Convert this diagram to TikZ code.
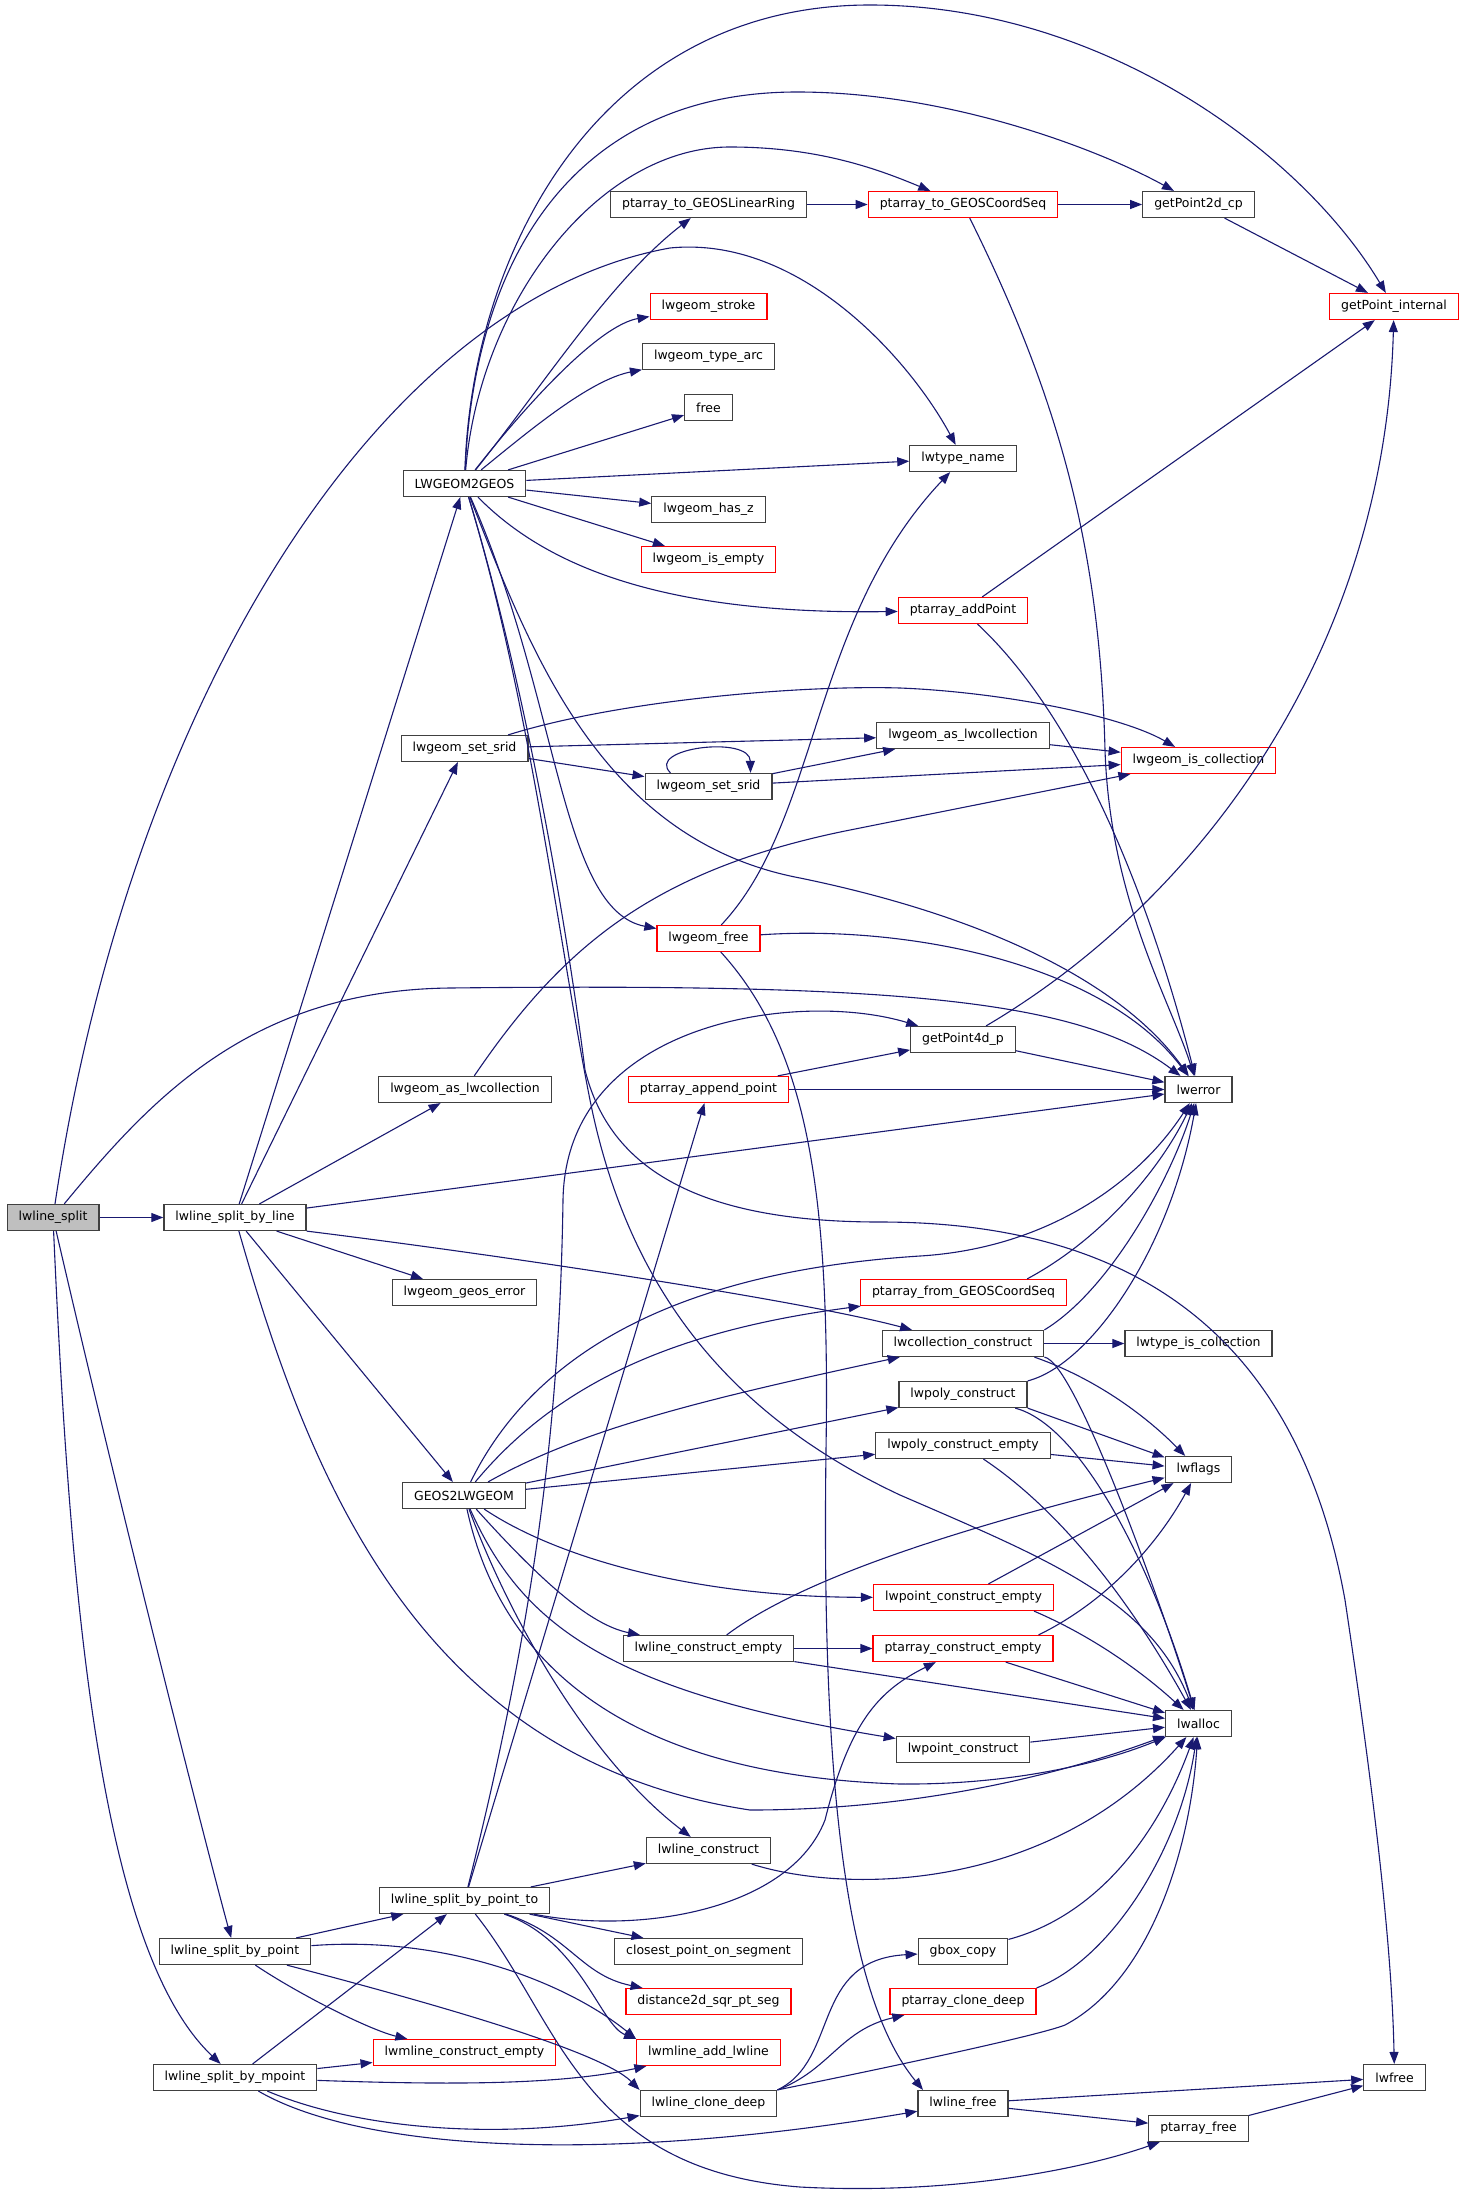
\documentclass[tikz,border=0pt]{standalone}
\usepackage{fontspec}
\setmainfont{DejaVu Sans}
\usetikzlibrary{arrows.meta}
\definecolor{edgeblue}{HTML}{191970}
\definecolor{linkred}{HTML}{FF0000}
\definecolor{rootgray}{HTML}{BFBFBF}
\definecolor{boxgray}{HTML}{404040}

\begin{document}
\begin{tikzpicture}[
  x=1pt,y=-1pt,
  fn/.style={draw=boxgray,line width=1.2pt,fill=white,minimum height=26pt,inner xsep=11.5pt,inner ysep=0pt,font=\fontsize{12.5}{14}\selectfont},
  fnred/.style={fn,draw=linkred},
  root/.style={fn,fill=rootgray},
  arr/.style={-{Triangle[length=12pt,width=9pt]},draw=edgeblue,line width=1.1pt}
]
\useasboundingbox (0,0) rectangle (1467,2197);

\node[root] (split) at (53,1217.5) {lwline\_split};
\node[fn] (byline) at (235,1217.5) {lwline\_split\_by\_line};
\node[fn] (bypoint) at (235,1951.5) {lwline\_split\_by\_point};
\node[fn] (bympoint) at (235,2077.5) {lwline\_split\_by\_mpoint};
\node[fn] (l2g) at (464.5,483.5) {LWGEOM2GEOS};
\node[fn] (srida) at (464.5,748.5) {lwgeom\_set\_srid};
\node[fn] (aslwca) at (465,1089.5) {lwgeom\_as\_lwcollection};
\node[fn] (geoserr) at (464.5,1292.5) {lwgeom\_geos\_error};
\node[fn] (g2l) at (464,1495.5) {GEOS2LWGEOM};
\node[fn] (bypointto) at (464.5,1900.5) {lwline\_split\_by\_point\_to};
\node[fnred] (mlineempty) at (464.5,2052.5) {lwmline\_construct\_empty};
\node[fn] (toring) at (708.5,204.5) {ptarray\_to\_GEOSLinearRing};
\node[fnred] (stroke) at (708.5,306.5) {lwgeom\_stroke};
\node[fn] (typearc) at (708.5,356.5) {lwgeom\_type\_arc};
\node[fn] (free) at (708.5,407.5) {free};
\node[fn] (hasz) at (708.5,509.5) {lwgeom\_has\_z};
\node[fnred] (isempty) at (708.5,559.5) {lwgeom\_is\_empty};
\node[fn] (sridb) at (708.5,786.5) {lwgeom\_set\_srid};
\node[fnred] (geomfree) at (708.5,938.5) {lwgeom\_free};
\node[fnred] (appendpt) at (708.5,1089.5) {ptarray\_append\_point};
\node[fn] (lineempty) at (708.5,1648.5) {lwline\_construct\_empty};
\node[fn] (lineconstr) at (708.5,1850.5) {lwline\_construct};
\node[fn] (closest) at (708.5,1951.5) {closest\_point\_on\_segment};
\node[fnred] (dist2d) at (708.5,2001.5) {distance2d\_sqr\_pt\_seg};
\node[fnred] (addline) at (708.5,2052.5) {lwmline\_add\_lwline};
\node[fn] (clonedeep) at (708.5,2103.5) {lwline\_clone\_deep};
\node[fnred] (tocoordseq) at (963,204.5) {ptarray\_to\_GEOSCoordSeq};
\node[fn] (typename) at (963,458.5) {lwtype\_name};
\node[fnred] (addpoint) at (963,610.5) {ptarray\_addPoint};
\node[fn] (aslwcb) at (963,735.5) {lwgeom\_as\_lwcollection};
\node[fn] (pt4d) at (963,1039.5) {getPoint4d\_p};
\node[fnred] (fromcoordseq) at (963.5,1292.5) {ptarray\_from\_GEOSCoordSeq};
\node[fn] (collconstr) at (963,1343.5) {lwcollection\_construct};
\node[fn] (polyconstr) at (963,1394.5) {lwpoly\_construct};
\node[fn] (polyempty) at (963,1445.5) {lwpoly\_construct\_empty};
\node[fnred] (pointempty) at (963.5,1597.5) {lwpoint\_construct\_empty};
\node[fnred] (ptarrempty) at (963,1648.5) {ptarray\_construct\_empty};
\node[fn] (pointconstr) at (963,1749.5) {lwpoint\_construct};
\node[fn] (gbox) at (963,1951.5) {gbox\_copy};
\node[fnred] (ptclone) at (963,2001.5) {ptarray\_clone\_deep};
\node[fn] (linefree) at (963,2103.5) {lwline\_free};
\node[fn] (pt2d) at (1198.5,204.5) {getPoint2d\_cp};
\node[fnred] (iscoll) at (1198.5,760.5) {lwgeom\_is\_collection};
\node[fn] (lwerror) at (1198.5,1089.5) {lwerror};
\node[fn] (typeiscoll) at (1198.5,1343.5) {lwtype\_is\_collection};
\node[fn] (lwflags) at (1198.5,1469.5) {lwflags};
\node[fn] (lwalloc) at (1198.5,1723.5) {lwalloc};
\node[fn] (ptfree) at (1198.5,2128.5) {ptarray\_free};
\node[fnred] (ptint) at (1394,306.5) {getPoint\_internal};
\node[fn] (lwfree) at (1394.5,2077.5) {lwfree};

\draw[arr] (split) -- (byline);
\draw[arr] (split) .. controls (130,700) and (380,300) .. (670,248) .. controls (800,235) and (910,360) .. (typename);
\draw[arr] (split) .. controls (150,1100) and (250,990) .. (450,988) .. controls (900,983) and (1080,1000) .. (lwerror);
\draw[arr] (split) .. controls (130,1550) and (215,1880) .. (bypoint);
\draw[arr] (split) .. controls (70,1600) and (100,1950) .. (bympoint);

\draw[arr] (byline) -- (l2g);
\draw[arr] (byline) -- (srida);
\draw[arr] (byline) -- (aslwca);
\draw[arr] (byline) -- (lwerror);
\draw[arr] (byline) -- (geoserr);
\draw[arr] (byline.south east) .. controls (500,1255) and (800,1300) .. (collconstr);
\draw[arr] (byline) -- (g2l);
\draw[arr] (byline) .. controls (310,1480) and (420,1760) .. (750,1810) .. controls (950,1810) and (1100,1760) .. (lwalloc);

\draw[arr] (l2g) .. controls (472,250) and (600,5) .. (870,5) .. controls (1100,5) and (1300,150) .. (ptint);
\draw[arr] (l2g) .. controls (475,250) and (580,92) .. (797,92) .. controls (950,92) and (1100,150) .. (pt2d);
\draw[arr] (l2g) .. controls (480,300) and (600,147) .. (730,147) .. controls (820,147) and (880,170) .. (tocoordseq);
\draw[arr] (l2g) .. controls (540,390) and (610,280) .. (toring);
\draw[arr] (l2g) .. controls (530,400) and (600,325) .. (stroke);
\draw[arr] (l2g) .. controls (530,430) and (590,380) .. (typearc);
\draw[arr] (l2g) -- (free);
\draw[arr] (l2g) -- (typename);
\draw[arr] (l2g) -- (hasz);
\draw[arr] (l2g) -- (isempty);
\draw[arr] (l2g) .. controls (540,560) and (650,615) .. (addpoint);
\draw[arr] (l2g) .. controls (560,700) and (560,910) .. (geomfree);
\draw[arr] (l2g) .. controls (530,650) and (600,840) .. (800,878) .. controls (980,915) and (1120,980) .. (lwerror);
\draw[arr] (l2g) .. controls (530,700) and (570,950) .. (585,1070) .. controls (610,1170) and (700,1222) .. (880,1222) .. controls (1150,1222) and (1300,1350) .. (1345,1600) .. controls (1375,1800) and (1392,1950) .. (lwfree);
\draw[arr] (l2g) .. controls (530,700) and (560,950) .. (590,1100) .. controls (630,1300) and (740,1420) .. (900,1495) .. controls (1050,1560) and (1150,1600) .. (lwalloc);

\draw[arr] (srida) -- (aslwcb);
\draw[arr] (srida) -- (sridb);
\draw[arr] (srida) .. controls (620,700) and (800,685) .. (900,688) .. controls (1000,692) and (1120,715) .. (iscoll);
\draw[arr] ([xshift=-38pt]sridb.north) .. controls (645,748) and (750,735) .. ([xshift=42pt]sridb.north);
\draw[arr] (sridb) -- (aslwcb);
\draw[arr] (sridb) -- (iscoll);
\draw[arr] (aslwcb) -- (iscoll);
\draw[arr] (aslwca) .. controls (560,950) and (650,870) .. (850,830) -- (iscoll);

\draw[arr] (toring) -- (tocoordseq);
\draw[arr] (tocoordseq) -- (pt2d);
\draw[arr] (tocoordseq) .. controls (1060,400) and (1100,550) .. (1105,750) .. controls (1110,900) and (1170,1000) .. (lwerror);
\draw[arr] (pt2d) -- (ptint);
\draw[arr] (addpoint) -- (ptint);
\draw[arr] (addpoint) .. controls (1080,720) and (1150,900) .. (lwerror);

\draw[arr] (geomfree) .. controls (820,820) and (810,620) .. (typename);
\draw[arr] (geomfree) .. controls (900,925) and (1100,960) .. (lwerror);
\draw[arr] (geomfree) .. controls (810,1050) and (830,1200) .. (826,1450) .. controls (822,1750) and (840,1990) .. ([xshift=-40pt]linefree.north);

\draw[arr] (appendpt) -- (pt4d);
\draw[arr] (appendpt) -- (lwerror);
\draw[arr] (pt4d) -- (lwerror);
\draw[arr] (pt4d) .. controls (1200,900) and (1385,650) .. (ptint);

\draw[arr] (bypointto) -- (appendpt);
\draw[arr] (bypointto) .. controls (540,1600) and (560,1400) .. (563,1200) .. controls (566,1020) and (800,990) .. (pt4d);
\draw[arr] (bypointto) -- (lineconstr);
\draw[arr] (bypointto) .. controls (640,1935) and (790,1910) .. (825,1820) .. controls (850,1720) and (880,1690) .. (ptarrempty);
\draw[arr] (bypointto) -- (closest);
\draw[arr] (bypointto) .. controls (570,1935) and (580,1975) .. (dist2d);
\draw[arr] (bypointto) .. controls (580,1940) and (600,2025) .. (addline.north west);
\draw[arr] (bypointto) .. controls (560,2020) and (580,2170) .. (800,2187) .. controls (950,2195) and (1080,2170) .. (ptfree);

\draw[arr] (bypoint) -- (bypointto);
\draw[arr] (bypoint) .. controls (450,1935) and (570,1985) .. (addline.north west);
\draw[arr] (bypoint) .. controls (300,1995) and (370,2030) .. (mlineempty);
\draw[arr] (bypoint) .. controls (420,2000) and (600,2050) .. (clonedeep.north west);

\draw[arr] (bympoint) -- (bypointto);
\draw[arr] (bympoint) -- (mlineempty);
\draw[arr] (bympoint) .. controls (450,2085) and (560,2085) .. (addline);
\draw[arr] (bympoint) .. controls (360,2130) and (500,2140) .. (clonedeep);
\draw[arr] (bympoint) .. controls (360,2150) and (600,2165) .. (linefree);

\draw[arr] (g2l) .. controls (540,1340) and (700,1270) .. (920,1256) .. controls (1050,1248) and (1140,1180) .. (lwerror);
\draw[arr] (g2l) .. controls (560,1380) and (680,1330) .. (fromcoordseq);
\draw[arr] (g2l) .. controls (580,1430) and (700,1400) .. (collconstr);
\draw[arr] (g2l) -- (polyconstr);
\draw[arr] (g2l) -- (polyempty);
\draw[arr] (g2l) .. controls (560,1560) and (700,1597) .. (pointempty);
\draw[arr] (g2l) .. controls (540,1580) and (590,1625) .. (lineempty);
\draw[arr] (g2l) .. controls (520,1620) and (600,1690) .. (pointconstr);
\draw[arr] (g2l) .. controls (510,1620) and (590,1760) .. (lineconstr);
\draw[arr] (g2l) .. controls (500,1660) and (620,1775) .. (900,1784) .. controls (1020,1785) and (1110,1760) .. (lwalloc);

\draw[arr] ([xshift=-40pt]fromcoordseq.north east) .. controls (1100,1240) and (1160,1170) .. (lwerror);
\draw[arr] (collconstr) -- (typeiscoll);
\draw[arr] (collconstr.north east) .. controls (1110,1290) and (1170,1180) .. (lwerror);
\draw[arr] ([xshift=-10pt]collconstr.south east) .. controls (1100,1380) and (1150,1420) .. (lwflags);
\draw[arr] (collconstr.south east) .. controls (1075,1362) and (1160,1600) .. (lwalloc);
\draw[arr] (polyconstr.north east) .. controls (1090,1365) and (1170,1250) .. (lwerror);
\draw[arr] (polyconstr.south east) -- (lwflags);
\draw[arr] (polyconstr) .. controls (1080,1425) and (1150,1560) .. (lwalloc);
\draw[arr] (polyempty) -- (lwflags);
\draw[arr] (polyempty) .. controls (1060,1510) and (1130,1600) .. (lwalloc);
\draw[arr] (pointempty) -- (lwflags);
\draw[arr] ([xshift=-20pt]pointempty.south east) .. controls (1090,1635) and (1140,1670) .. (lwalloc);
\draw[arr] ([xshift=-15pt]ptarrempty.north east) .. controls (1110,1600) and (1160,1540) .. (lwflags);
\draw[arr] (ptarrempty) -- (lwalloc);
\draw[arr] (lineempty) .. controls (800,1580) and (950,1530) .. (lwflags);
\draw[arr] (lineempty) -- (ptarrempty);
\draw[arr] (lineempty) -- (lwalloc);
\draw[arr] (pointconstr) -- (lwalloc);
\draw[arr] (lineconstr) .. controls (850,1895) and (1050,1890) .. (lwalloc);
\draw[arr] (gbox) .. controls (1100,1915) and (1160,1830) .. (lwalloc);
\draw[arr] (ptclone.north east) .. controls (1110,1960) and (1180,1850) .. (lwalloc);
\draw[arr] (clonedeep.north east) .. controls (900,2065) and (1040,2035) .. (1065,2025) .. controls (1150,1980) and (1190,1850) .. (lwalloc);
\draw[arr] (clonedeep.north east) .. controls (840,2060) and (810,1960) .. (gbox);
\draw[arr] (clonedeep.north east) .. controls (830,2070) and (840,2030) .. (ptclone);
\draw[arr] (linefree) -- (lwfree);
\draw[arr] (linefree) -- (ptfree);
\draw[arr] (ptfree) -- (lwfree);
\end{tikzpicture}
\end{document}
